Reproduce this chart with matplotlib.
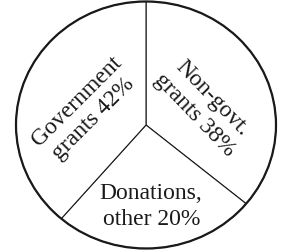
import matplotlib
matplotlib.use("Agg")
import matplotlib.pyplot as plt
from matplotlib.patches import Circle

# Data
labels = ["Non-govt.\ngrants 38%", "Donations,\nother 20%", "Government\ngrants 42%"]
shares_pct = [38, 20, 42]              # printed percentages
drawn_share = [36.0, 25.3, 38.7]       # slice sizes as drawn in the reference

fig = plt.figure(figsize=(2.84, 2.52), dpi=100)
ax = fig.add_axes([0, 0, 1, 1])
ax.pie(drawn_share, startangle=90, counterclock=False,
       colors=["white"] * 3,
       wedgeprops=dict(edgecolor="#1a1a1a", linewidth=0.8))
ax.add_patch(Circle((0, 0), 1, fill=False, edgecolor="#1a1a1a", linewidth=1.6))
ax.set_aspect("auto")
ax.set_xlim(-146 / 130, (284 - 146) / 130)
ax.set_ylim(-(252 - 125) / 123.5, 125 / 123.5)
ax.axis("off")

font = dict(family="Liberation Serif", size=17, color="#1a1a1a")
ax.text(0.44, 0.15, labels[0], rotation=-46, ha="center", va="center",
        multialignment="center", linespacing=1.2, **font)
ax.text(0.04, -0.66, labels[1], rotation=0, ha="center", va="center",
        multialignment="center", linespacing=1.3, **font)
ax.text(-0.47, 0.12, labels[2], rotation=45, ha="center", va="center",
        multialignment="center", linespacing=1.2, **font)

fig.savefig("out.png", dpi=100)
